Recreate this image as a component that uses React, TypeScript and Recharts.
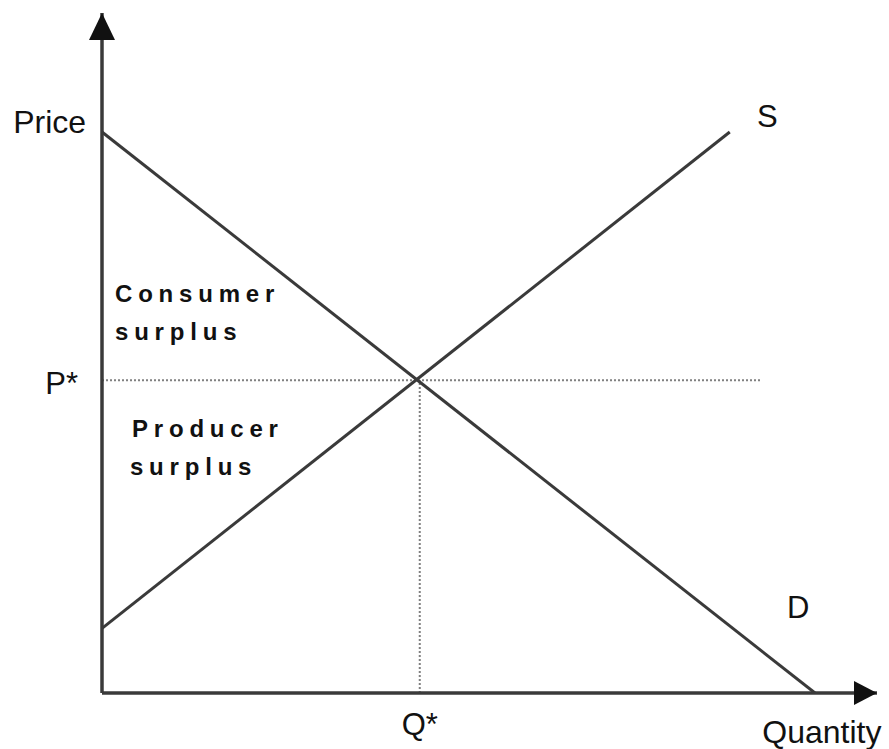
import React from "react";
import { LineChart, Line, XAxis, YAxis, ReferenceLine, ReferenceDot } from "recharts";

// Equilibrium
const Qstar = 4.1;
const Pstar = 4.6;

// Demand and supply curves (quantity q, price p)
const demandData = [
  { q: 0, p: 8.25 },
  { q: 9.2, p: 0 },
];
const supplyData = [
  { q: 0, p: 0.95 },
  { q: 8.1, p: 8.25 },
];

// Tick labels
const xTicks = [Qstar];
const xTickLabels = ["Q*"];
const yTicks = [Pstar];
const yTickLabels = ["P*"];

const FONT = "'Liberation Sans', Arial, sans-serif";
const INK = "#3a3a3a";

const XTick = (props: any) => {
  const { x, y, index } = props;
  return (
    <text x={x} y={y + 42} textAnchor="middle" fontFamily={FONT} fontSize={31} fill="#111">
      {xTickLabels[index]}
    </text>
  );
};

const YTick = (props: any) => {
  const { x, y, index } = props;
  return (
    <text x={x - 24} y={y + 14} textAnchor="end" fontFamily={FONT} fontSize={31} fill="#111">
      {yTickLabels[index]}
    </text>
  );
};

const textShape = (text: string, anchor: "start" | "end", size: number, bold = false) => (p: any) => (
  <text
    x={p.cx}
    y={p.cy}
    textAnchor={anchor}
    fontFamily={FONT}
    fontSize={size}
    fontWeight={bold ? 700 : 400}
    letterSpacing={bold ? 5.8 : 0}
    fill="#111"
  >
    {text}
  </text>
);

const upArrow = (p: any) => (
  <polygon points={`${p.cx},${p.cy} ${p.cx - 13},${p.cy + 27} ${p.cx + 13},${p.cy + 27}`} fill="#111" />
);
const rightArrow = (p: any) => (
  <polygon points={`${p.cx},${p.cy} ${p.cx - 23},${p.cy - 12} ${p.cx - 23},${p.cy + 12}`} fill="#111" />
);

export default function App() {
  return (
    <div>
      <style>{"body{margin:0;background:#fff}"}</style>
      <LineChart width={889} height={749} margin={{ top: 13, right: 12, bottom: 0, left: 0 }}>
        <XAxis
          dataKey="q"
          type="number"
          domain={[0, 10]}
          allowDataOverflow
          ticks={xTicks}
          interval={0}
          tickLine={false}
          tickSize={0}
          tickMargin={0}
          tick={<XTick />}
          height={56}
          axisLine={{ stroke: INK, strokeWidth: 3.5 }}
        />
        <YAxis
          dataKey="p"
          type="number"
          domain={[0, 10]}
          allowDataOverflow
          ticks={yTicks}
          interval={0}
          tickLine={false}
          tickSize={0}
          tickMargin={0}
          tick={<YTick />}
          width={102}
          axisLine={{ stroke: INK, strokeWidth: 3.5 }}
        />
        <ReferenceLine
          segment={[{ x: 0, y: Pstar }, { x: 8.5, y: Pstar }]}
          stroke="#808080"
          strokeWidth={2}
          strokeDasharray="2 2"
          ifOverflow="visible"
        />
        <ReferenceLine
          segment={[{ x: Qstar, y: 0 }, { x: Qstar, y: Pstar }]}
          stroke="#808080"
          strokeWidth={2}
          strokeDasharray="2 2"
          ifOverflow="visible"
        />
        <Line
          data={demandData}
          dataKey="p"
          stroke={INK}
          strokeWidth={3}
          dot={false}
          isAnimationActive={false}
        />
        <Line
          data={supplyData}
          dataKey="p"
          stroke={INK}
          strokeWidth={3}
          dot={false}
          isAnimationActive={false}
        />
        <ReferenceDot x={0} y={10} r={1} ifOverflow="visible" shape={upArrow} />
        <ReferenceDot x={10} y={0} r={1} ifOverflow="visible" shape={rightArrow} />
        <ReferenceDot x={-0.206} y={8.235} r={1} ifOverflow="visible" shape={textShape("Price", "end", 32)} />
        <ReferenceDot x={8.52} y={-0.735} r={1} ifOverflow="visible" shape={textShape("Quantity", "start", 32)} />
        <ReferenceDot x={8.45} y={8.32} r={1} ifOverflow="visible" shape={textShape("S", "start", 31)} />
        <ReferenceDot x={8.84} y={1.1} r={1} ifOverflow="visible" shape={textShape("D", "start", 31)} />
        <ReferenceDot x={0.168} y={5.75} r={1} ifOverflow="visible" shape={textShape("Consumer", "start", 24, true)} />
        <ReferenceDot x={0.168} y={5.19} r={1} ifOverflow="visible" shape={textShape("surplus", "start", 24, true)} />
        <ReferenceDot x={0.387} y={3.765} r={1} ifOverflow="visible" shape={textShape("Producer", "start", 24, true)} />
        <ReferenceDot x={0.361} y={3.206} r={1} ifOverflow="visible" shape={textShape("surplus", "start", 24, true)} />
      </LineChart>
    </div>
  );
}
